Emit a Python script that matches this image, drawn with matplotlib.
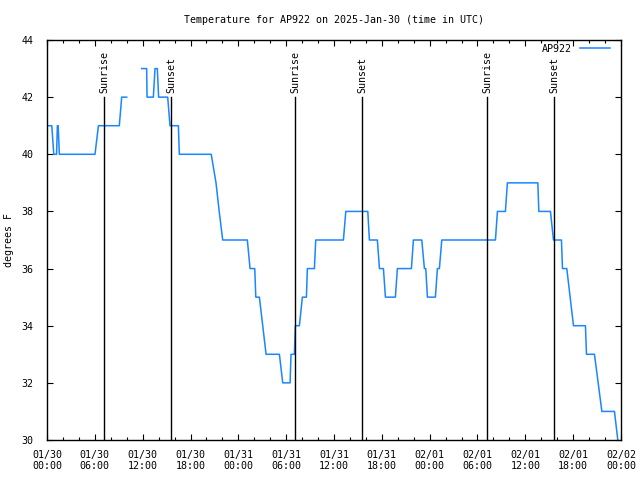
import matplotlib
matplotlib.use("Agg")
import matplotlib.pyplot as plt
import numpy as np

# hours since 2025-01-30 00:00 UTC and temperature (F); NaN marks the data gap
hours = [0.0, 0.6, 0.85, 1.2, 1.3, 1.4, 1.55, 6.02, 6.45, 9.07, 9.37, 10.0,
         np.nan,
         11.88, 12.5, 12.55, 13.34, 13.55, 13.84, 14.0, 15.14, 15.43, 16.48, 16.6,
         20.6, 20.9, 21.2, 21.6, 22.04, 25.13, 25.47, 26.06, 26.19, 26.64, 27.48,
         29.15, 29.57, 30.49, 30.61, 31.03, 31.15, 31.66, 32.03, 32.54, 32.66,
         33.54, 33.71, 37.18, 37.48, 40.24, 40.44, 41.44, 41.7, 42.2, 42.45,
         43.7, 43.95, 45.71, 45.96, 47.01, 47.34, 47.51, 47.72, 48.72, 48.97,
         49.22, 49.52, 56.25, 56.5, 57.5, 57.75, 61.57, 61.69, 63.15, 63.53,
         64.53, 64.66, 65.2, 66.04, 67.54, 67.67, 68.67, 69.6, 71.18, 71.6]
temps = [41, 41, 40, 40, 41, 41, 40, 40, 41, 41, 42, 42,
         np.nan,
         43, 43, 42, 42, 43, 43, 42, 42, 41, 41, 40,
         40, 39.5, 39, 38, 37, 37, 36, 36, 35, 35, 33,
         33, 32, 32, 33, 33, 34, 34, 35, 35, 36,
         36, 37, 37, 38, 38, 37, 37, 36, 36, 35,
         35, 36, 36, 37, 37, 36, 36, 35, 35, 36,
         36, 37, 37, 38, 38, 39, 39, 38, 38, 37,
         37, 36, 36, 34, 34, 33, 33, 31, 31, 30]

sun_hours = [7.19, 15.50, 31.15, 39.56, 55.25, 63.65]
sun_labels = ["Sunrise", "Sunset", "Sunrise", "Sunset", "Sunrise", "Sunset"]

xtick_hours = list(range(0, 73, 6))
xtick_labels = ["01/30\n00:00", "01/30\n06:00", "01/30\n12:00", "01/30\n18:00",
                "01/31\n00:00", "01/31\n06:00", "01/31\n12:00", "01/31\n18:00",
                "02/01\n00:00", "02/01\n06:00", "02/01\n12:00", "02/01\n18:00",
                "02/02\n00:00"]

plt.rcParams["font.family"] = "DejaVu Sans Mono"
plt.rcParams["font.size"] = 7.2

fig = plt.figure(figsize=(6.4, 4.8), dpi=100)
ax = fig.add_axes([47 / 640, 40 / 480, 574 / 640, 400 / 480])

ax.plot(hours, temps, color="#1a86ff", linewidth=1.1, label="AP922")

for h, lab in zip(sun_hours, sun_labels):
    ax.plot([h, h], [30, 42], color="black", linewidth=1.0)
    ax.text(h + 0.05, 42.15, lab, rotation=90, ha="center", va="bottom")

ax.set_xlim(0, 72)
ax.set_ylim(30, 44)
ax.set_xticks(xtick_hours)
ax.set_xticklabels(xtick_labels, linespacing=1.15)
ax.set_xticks(np.arange(0, 73, 2), minor=True)
ax.set_yticks(np.arange(30, 45, 2))
ax.tick_params(which="both", direction="in", top=True, right=True, width=0.8)
ax.tick_params(which="major", length=4.5)
ax.tick_params(which="minor", length=2.5)
ax.tick_params(axis="x", which="major", pad=7)
ax.tick_params(axis="y", which="major", pad=10)
for s in ax.spines.values():
    s.set_linewidth(1.0)

ax.set_title("Temperature for AP922 on 2025-Jan-30 (time in UTC)", fontsize=7.2, pad=12)
ax.set_ylabel("degrees F")
ax.yaxis.set_label_coords(-0.058, 0.5)

ax.legend(loc="upper right", bbox_to_anchor=(0.981, 0.99), frameon=False,
          markerfirst=False, handlelength=3.0, borderaxespad=0.0,
          borderpad=0.0, handletextpad=0.8)

fig.savefig("out.png", dpi=100)
